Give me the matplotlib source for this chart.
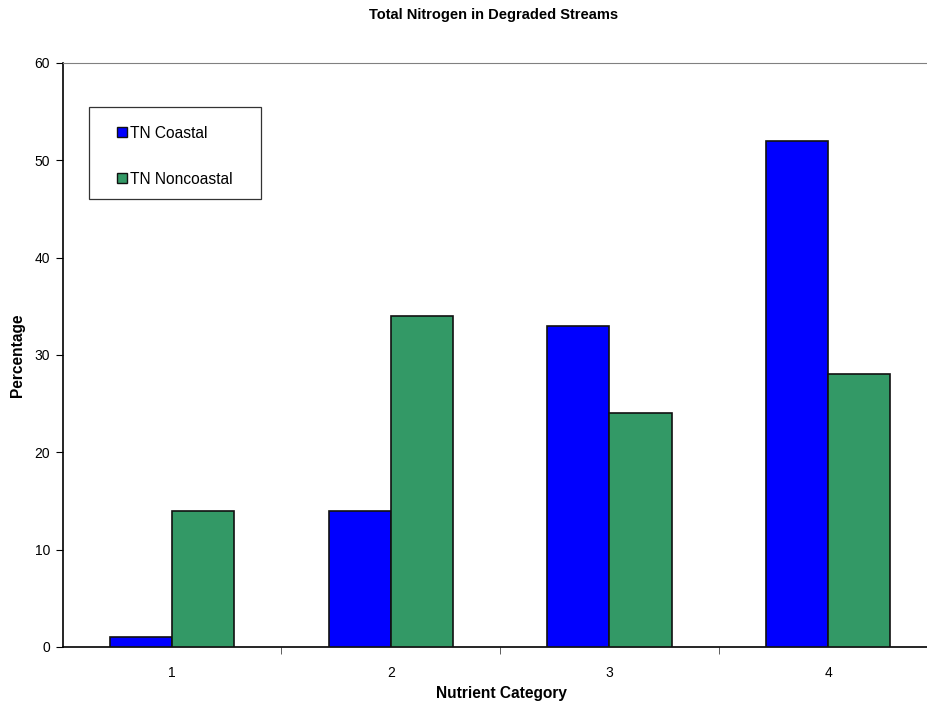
import matplotlib
matplotlib.use("Agg")
import matplotlib.pyplot as plt
from matplotlib.patches import Rectangle
import numpy as np

plt.rcParams['font.family'] = ['Liberation Sans', 'DejaVu Sans']

categories = ["1", "2", "3", "4"]
series_names = ["TN Coastal", "TN Noncoastal"]
tn_coastal = [1, 14, 33, 52]
tn_noncoastal = [14, 34, 24, 28]
y_ticks = [0, 10, 20, 30, 40, 50, 60]
colors = ['#0000FF', '#339966']

W, H = 927, 710
fig = plt.figure(figsize=(W/100, H/100), dpi=100)

def fx(px):
    return px / W

def fy(py):
    return 1 - py / H

left, right, top, bottom = 62.6, 937.6, 63, 647
ax = fig.add_axes([fx(left), fy(bottom), (right-left)/W, (bottom-top)/H])

x = np.arange(len(categories))
bw = 0.284
ax.bar(x - bw/2, tn_coastal, bw, color=colors[0], edgecolor='#111111', linewidth=1.2, zorder=3)
ax.bar(x + bw/2, tn_noncoastal, bw, color=colors[1], edgecolor='#111111', linewidth=1.2, zorder=3)

ax.set_xlim(-0.5, len(categories) - 0.5)
ax.set_ylim(0, 60)
ax.set_yticks(y_ticks)
ax.set_yticklabels([str(v) for v in y_ticks], fontsize=10)
ax.set_xticks(x)
ax.set_xticklabels(categories, fontsize=10)
ax.tick_params(axis='x', which='major', length=0, pad=14)
ax.set_xticks(np.arange(0.5, len(categories) - 0.5), minor=True)
ax.tick_params(axis='x', which='minor', length=5, direction='out', color='#444444')
ax.tick_params(axis='y', length=5, direction='out', pad=4)

for s in ['left', 'bottom']:
    ax.spines[s].set_color('black')
    ax.spines[s].set_linewidth(1.2)
ax.spines['top'].set_color('#808080')
ax.spines['right'].set_visible(False)

fig.text(fx(494), fy(18.5), 'Total Nitrogen in Degraded Streams', ha='center', va='baseline',
         fontsize=10.5, fontweight='bold')
fig.text(fx(501), fy(698), 'Nutrient Category', ha='center', va='baseline', fontsize=11.2, fontweight='bold')
fig.text(fx(17.5), fy(355), 'Percentage', ha='center', va='center', fontsize=11.2, fontweight='bold', rotation=90)

# legend box
fig.patches.append(Rectangle((fx(89), fy(199)), (261-89)/W, (199-107)/H, transform=fig.transFigure,
                             facecolor='white', edgecolor='#333333', linewidth=0.9, zorder=5))
for i, (name, c) in enumerate(zip(series_names, colors)):
    cy = 132 + i * 46
    fig.patches.append(Rectangle((fx(117), fy(cy + 5)), 10/W, 10/H, transform=fig.transFigure,
                                 facecolor=c, edgecolor='#111111', linewidth=1.0, zorder=6))
    fig.text(fx(130.5), fy(cy + 5.6), name, ha='left', va='baseline', fontsize=11.2, zorder=7)

fig.savefig('out.png', dpi=100)
